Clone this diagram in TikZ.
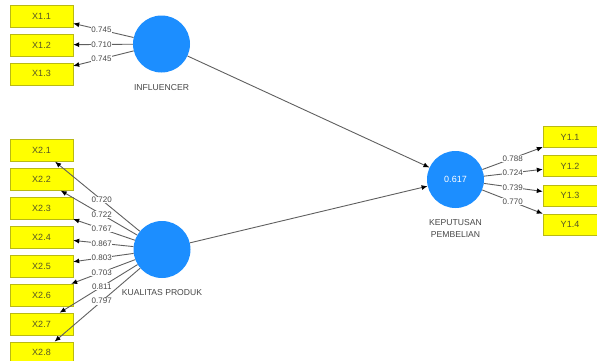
\documentclass[tikz,border=0pt]{standalone}
\usepackage{fontspec}
\setmainfont{Liberation Sans}
\usetikzlibrary{chains,positioning,arrows.meta}

\definecolor{plsblue}{RGB}{28,142,255}
\definecolor{plsyellow}{RGB}{255,255,0}
\definecolor{plsedge}{RGB}{185,185,20}
\definecolor{plstext}{RGB}{85,85,40}
\definecolor{plsgray}{RGB}{70,70,70}
\definecolor{plsline}{RGB}{95,95,95}

\begin{document}
\begin{tikzpicture}[x=1pt,y=-1pt]
    \useasboundingbox (0,0) rectangle (597,360);

    \edef\sizebox{22pt}
    \tikzstyle{plsitem}=[draw=plsedge,fill=plsyellow,minimum width=63pt,
    minimum height=\sizebox,inner sep=0pt,text=plstext,
    font=\fontsize{9}{10}\selectfont]
    \tikzstyle{plsitemy}=[plsitem,minimum width=54pt,minimum height=21pt]
    \tikzstyle{plslatent}=[circle,fill=plsblue,minimum size=57pt,inner sep=0pt,
    text=white,font=\fontsize{9}{10}\selectfont]
    \tikzstyle{plsname}=[text=plsgray,align=center,
    font=\fontsize{8.6}{12}\selectfont]
    \tikzstyle{plsload}=[draw=plsline,line width=0.9pt,
    -{Latex[black,length=6pt,width=5pt]}]
    \tikzstyle{plsval}=[fill=white,inner sep=0.6pt,text=plsgray,
    font=\fontsize{8}{8}\selectfont]

    %% Latent variables
    \node [plslatent] at (161.5,44) (infl) {};
    \node [plslatent] at (162,249.5) (kual) {};
    \node [plslatent] at (455.5,179.5) (kep) {0.617};
    \node [plsname] at (161.5,87.5) (inflname) {INFLUENCER};
    \node [plsname] at (162,293) (kualname) {KUALITAS PRODUK};
    \node [plsname] at (455.5,228.5) (kepname) {KEPUTUSAN\\PEMBELIAN};

    %% Indicators of INFLUENCER
    \begin{scope}[start chain=xa going below,node distance=6.5pt]
        \node [on chain=xa,plsitem] at (41.5,16) (x11) {X1.1};
        \node [on chain=xa,plsitem] (x12) {X1.2};
        \node [on chain=xa,plsitem] (x13) {X1.3};
    \end{scope}

    %% Indicators of KUALITAS PRODUK
    \begin{scope}[start chain=xb going below,node distance=6.5pt]
        \node [on chain=xb,plsitem] at (41.5,150.5) (x21) {X2.1};
        \node [on chain=xb,plsitem] (x22) {X2.2};
        \node [on chain=xb,plsitem] (x23) {X2.3};
        \node [on chain=xb,plsitem] (x24) {X2.4};
        \node [on chain=xb,plsitem] (x25) {X2.5};
        \node [on chain=xb,plsitem] (x26) {X2.6};
        \node [on chain=xb,plsitem] (x27) {X2.7};
        \node [on chain=xb,plsitem] (x28) {X2.8};
    \end{scope}

    %% Indicators of KEPUTUSAN PEMBELIAN
    \begin{scope}[start chain=ya going below,node distance=7.7pt]
        \node [on chain=ya,plsitemy] at (570,137) (y11) {Y1.1};
        \node [on chain=ya,plsitemy] (y12) {Y1.2};
        \node [on chain=ya,plsitemy] (y13) {Y1.3};
        \node [on chain=ya,plsitemy] (y14) {Y1.4};
    \end{scope}

    %% Inner model
    \draw [plsload] (infl) to (kep);
    \draw [plsload] (kual) to (kep);

    %% Outer loadings
    \foreach \lv/\ind in {infl/x11,infl/x12,infl/x13,
        kual/x21,kual/x22,kual/x23,kual/x24,kual/x25,kual/x26,kual/x27,kual/x28,
        kep/y11,kep/y12,kep/y13,kep/y14}
        \draw [plsload] (\lv) to (\ind);

    \foreach \lv/\ind/\val in {infl/x11/0.745,infl/x12/0.710,infl/x13/0.745,
        kual/x21/0.720,kual/x22/0.722,kual/x23/0.767,kual/x24/0.867,
        kual/x25/0.803,kual/x26/0.703,kual/x27/0.811,kual/x28/0.797,
        kep/y11/0.788,kep/y12/0.724,kep/y13/0.739,kep/y14/0.770}
        \path (\lv.center) -- (\ind.center) node [plsval,midway] {\val};

\end{tikzpicture}
\end{document}
